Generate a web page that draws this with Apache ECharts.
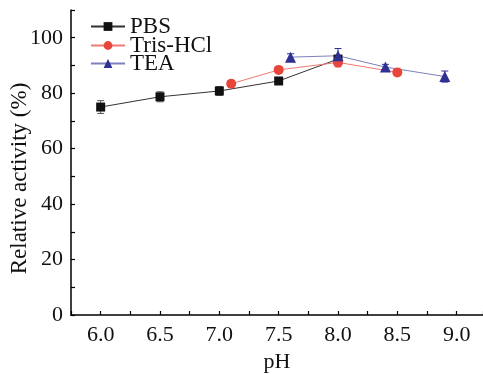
<!DOCTYPE html>
<html><head><meta charset="utf-8">
<script src="https://cdn.jsdelivr.net/npm/echarts@6/dist/echarts.min.js"></script>
<style>html,body{margin:0;padding:0;background:#fff}#c{width:483px;height:374px}</style>
</head><body><div id="c"></div>
<script>
const pbsPH = [6.0, 6.5, 7.0, 7.5, 8.0];
const pbsVal = [75.0, 78.7, 80.8, 84.4, 92.3];
const pbsErr = [2.3, 1.8, 1.6, 1.0, 1.0];
const trisPH = [7.1, 7.5, 8.0, 8.5];
const trisVal = [83.4, 88.4, 91.1, 87.5];
const trisErr = [1.0, 1.0, 1.6, 1.1];
const teaPH = [7.6, 8.0, 8.4, 8.9];
const teaVal = [93.0, 93.5, 89.4, 86.0];
const teaErr = [1.2, 2.6, 1.0, 2.0];
const seriesNames = ['PBS','Tris-HCl','TEA'];
const xTickLabels = ['6.0','6.5','7.0','7.5','8.0','8.5','9.0'];
const yTickLabels = ['0','20','40','60','80','100'];

const font = 'Liberation Serif';
function pairs(x, y){ return x.map((v,i)=>[v,y[i]]); }
function errData(x,y,e){ return x.map((v,i)=>[v,y[i]-e[i],y[i]+e[i]]); }
function errSeries(name, x, y, e, color){
  return {
    type:'custom', name: name+'_err', z:1, silent:true,
    data: errData(x,y,e),
    renderItem: function(params, api){
      const lo = api.coord([api.value(0), api.value(1)]);
      const hi = api.coord([api.value(0), api.value(2)]);
      const w = 3.5;
      const st = {stroke: color, lineWidth: 1};
      return {type:'group', children:[
        {type:'line', shape:{x1:lo[0],y1:lo[1],x2:hi[0],y2:hi[1]}, style:st},
        {type:'line', shape:{x1:lo[0]-w,y1:lo[1],x2:lo[0]+w,y2:lo[1]}, style:st},
        {type:'line', shape:{x1:hi[0]-w,y1:hi[1],x2:hi[0]+w,y2:hi[1]}, style:st}
      ]};
    }
  };
}
function legendFor(name, top){
  return {
    left:90, top:top, padding:0, itemWidth:34, itemHeight:11, itemGap:0,
    textStyle:{fontFamily:font, fontSize:23, color:'#111'},
    data:[name]
  };
}
const chart = echarts.init(document.getElementById('c'), null, {renderer:'canvas'});
const axisLineStyle = {color:'#000', width:1.5};
chart.setOption({
  animation:false,
  backgroundColor:'#fff',
  textStyle:{fontFamily:font},
  grid:{left:71, right:0, top:10, bottom:59, containLabel:false, outerBoundsMode:'none'},
  legend:[legendFor(seriesNames[0], 15), legendFor(seriesNames[1], 34), legendFor(seriesNames[2], 52)],
  xAxis:{
    type:'value', min:5.75, max:9.222, interval:0.25,
    name:'pH', nameLocation:'middle', nameGap:36, nameMoveOverlap:false,
    nameTextStyle:{fontFamily:font, fontSize:22, color:'#111'},
    axisLine:{lineStyle:axisLineStyle},
    axisTick:{inside:true, length:4, lineStyle:{color:'#000', width:1.2}},
    axisLabel:{fontFamily:font, fontSize:22, color:'#111', margin:9,
      formatter:function(v){
        const s = v.toFixed(1);
        return (Math.abs(v*2-Math.round(v*2))<1e-6 && xTickLabels.indexOf(s)>=0) ? s : '';
      }},
    splitLine:{show:false}
  },
  yAxis:{
    type:'value', min:0, max:110, interval:10,
    name:'Relative activity (%)', nameLocation:'middle', nameGap:40, nameRotate:90, nameMoveOverlap:false,
    nameTextStyle:{fontFamily:font, fontSize:23, color:'#111', padding:[0,32,0,0]},
    axisLine:{lineStyle:axisLineStyle},
    axisTick:{inside:true, length:4, lineStyle:{color:'#000', width:1.2}},
    axisLabel:{fontFamily:font, fontSize:22, color:'#111', margin:8,
      formatter:function(v){ const s=String(v); return yTickLabels.indexOf(s)>=0 ? s : ''; }},
    splitLine:{show:false}
  },
  series:[
    errSeries('PBS', pbsPH, pbsVal, pbsErr, '#555'),
    errSeries('Tris-HCl', trisPH, trisVal, trisErr, '#e8463a'),
    errSeries('TEA', teaPH, teaVal, teaErr, '#2e3192'),
    {name:seriesNames[0], type:'line', data:pairs(pbsPH,pbsVal), symbol:'rect', symbolSize:9, z:3,
     itemStyle:{color:'#111'}, lineStyle:{color:'#333', width:1}},
    {name:seriesNames[1], type:'line', data:pairs(trisPH,trisVal), symbol:'circle', symbolSize:10, z:3,
     itemStyle:{color:'#e8463a'}, lineStyle:{color:'#f07a70', width:1}},
    {name:seriesNames[2], type:'line', data:pairs(teaPH,teaVal), symbol:'triangle', symbolSize:11, z:3,
     itemStyle:{color:'#2e3192'}, lineStyle:{color:'#7f7fbf', width:1}}
  ]
});
</script></body></html>
